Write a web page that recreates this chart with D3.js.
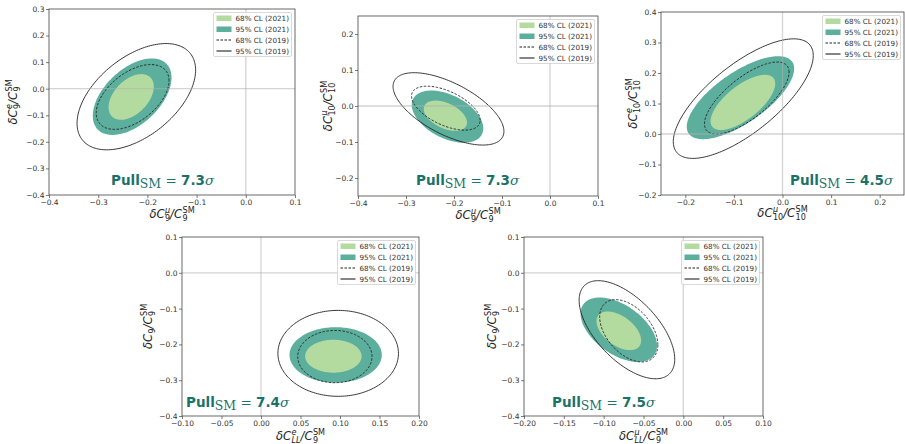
<!DOCTYPE html>
<html>
<head>
<meta charset="utf-8">
<script src="https://cdn.jsdelivr.net/npm/d3@7"></script>
<style>
  body { margin: 0; background: #fff; }
  svg { display: block; font-family: "DejaVu Sans", sans-serif; }
</style>
</head>
<body>
<svg id="fig" width="905" height="444"></svg>
<script>
// axis ranges and ticks, one entry per panel
const xDomains = [[-0.4, 0.1], [-0.4, 0.1], [-0.25, 0.25], [-0.1, 0.2], [-0.2, 0.1]];
const yDomains = [[-0.4, 0.3], [-0.25, 0.25], [-0.2, 0.4], [-0.4, 0.1], [-0.4, 0.1]];
const xTickVals = [
  [-0.4, -0.3, -0.2, -0.1, 0.0, 0.1],
  [-0.4, -0.3, -0.2, -0.1, 0.0, 0.1],
  [-0.2, -0.1, 0.0, 0.1, 0.2],
  [-0.1, -0.05, 0.0, 0.05, 0.1, 0.15, 0.2],
  [-0.2, -0.15, -0.1, -0.05, 0.0, 0.05, 0.1]
];
const yTickVals = [
  [-0.4, -0.3, -0.2, -0.1, 0.0, 0.1, 0.2, 0.3],
  [-0.2, -0.1, 0.0, 0.1, 0.2],
  [-0.2, -0.1, 0.0, 0.1, 0.2, 0.3, 0.4],
  [-0.4, -0.3, -0.2, -0.1, 0.0, 0.1],
  [-0.4, -0.3, -0.2, -0.1, 0.0, 0.1]
];
const xTickDigits = [1, 1, 1, 2, 2];
const pulls = ["7.3", "7.3", "4.5", "7.4", "7.5"];

// contours: [centre x, centre y, half width x, half width y, correlation]
const fill68_2021 = [
  [-0.233, -0.031, 0.046, 0.086, 0.45],
  [-0.218, -0.027, 0.045, 0.042, -0.45],
  [-0.0815, 0.1035, 0.0665, 0.0905, 0.68],
  [0.0916, -0.233, 0.0357, 0.046, 0.0],
  [-0.081, -0.162, 0.028, 0.054, -0.5]
];
const fill95_2021 = [
  [-0.231, -0.030, 0.080, 0.144, 0.5],
  [-0.2135, -0.0295, 0.0745, 0.0725, -0.45],
  [-0.0865, 0.119, 0.1105, 0.136, 0.7],
  [0.0945, -0.2295, 0.0584, 0.0775, 0.0],
  [-0.081, -0.159, 0.048, 0.090, -0.5]
];
const line68_2019 = [
  [-0.230, -0.031, 0.074, 0.122, 0.5],
  [-0.217, -0.006, 0.0715, 0.061, -0.55],
  [-0.0735, 0.118, 0.087, 0.118, 0.72],
  [0.0935, -0.234, 0.047, 0.073, 0.0],
  [-0.0685, -0.162, 0.0365, 0.087, -0.45]
];
const line95_2019 = [
  [-0.2225, -0.03, 0.1205, 0.20, 0.5],
  [-0.2115, -0.008, 0.1155, 0.1005, -0.62],
  [-0.0807, 0.116, 0.144, 0.196, 0.72],
  [0.0977, -0.225, 0.0763, 0.12, 0.0],
  [-0.0708, -0.159, 0.060, 0.137, -0.6]
];

const legendLabels = ["68% CL (2021)", "95% CL (2021)", "68% CL (2019)", "95% CL (2019)"];

// axis labels: [text, superscript, subscript]
const xLabels = [
  [["δC", "μ", "9"], ["/C", "SM", "9"]],
  [["δC", "μ", "9"], ["/C", "SM", "9"]],
  [["δC", "μ", "10"], ["/C", "SM", "10"]],
  [["δC", "e", "LL"], ["/C", "SM", "9"]],
  [["δC", "μ", "LL"], ["/C", "SM", "9"]]
];
const yLabels = [
  [["δC", "e", "9"], ["/C", "SM", "9"]],
  [["δC", "μ", "10"], ["/C", "SM", "10"]],
  [["δC", "e", "10"], ["/C", "SM", "10"]],
  [["δC", "", "9"], ["/C", "SM", "9"]],
  [["δC", "", "9"], ["/C", "SM", "9"]]
];

// layout of the five frames
const boxes = [
  {x0: 49, x1: 295, y0: 9, y1: 195},
  {x0: 358, x1: 598, y0: 16, y1: 196},
  {x0: 661, x1: 904, y0: 12, y1: 195},
  {x0: 182, x1: 419, y0: 237, y1: 416},
  {x0: 524, x1: 763, y0: 237, y1: 416}
];
const yLabelX = [13, 328, 633, 148, 492];
const xLabelY = [218, 219, 217, 440, 440];
const pullPos = [[111, 185], [416, 185], [790, 185], [186, 407], [552, 407]];

const lightGreen = "#b3dba0";
const darkTeal = "#5cae9d";
const pullColor = "#1b7269";

const svg = d3.select("#fig");

function ellipsePoints(c) {
  const [cx, cy, sx, sy, rho] = c;
  const s = Math.sqrt(1 - rho * rho);
  return d3.range(0, 2 * Math.PI, Math.PI / 90).map(t =>
    [cx + sx * Math.cos(t), cy + sy * (rho * Math.cos(t) + s * Math.sin(t))]);
}

function isItalic(s) {
  return s !== "SM" && !/^[0-9]+$/.test(s);
}

// writes δC^a_b/C^c_d as a run of text pieces, returns width
function mathLabel(g, parts, size) {
  let x = 0;
  parts.forEach(p => {
    const main = g.append("text")
      .attr("x", x).attr("y", 0)
      .attr("font-size", size)
      .attr("font-style", "italic")
      .attr("fill", "#222")
      .text(p[0]);
    x += main.node().getComputedTextLength() + 0.5;
    let w = 0;
    if (p[1]) {
      const sup = g.append("text")
        .attr("x", x).attr("y", -size * 0.42)
        .attr("font-size", size * 0.7)
        .attr("font-style", isItalic(p[1]) ? "italic" : "normal")
        .attr("fill", "#222")
        .text(p[1]);
      w = Math.max(w, sup.node().getComputedTextLength());
    }
    if (p[2]) {
      const sub = g.append("text")
        .attr("x", x).attr("y", size * 0.26)
        .attr("font-size", size * 0.7)
        .attr("font-style", isItalic(p[2]) ? "italic" : "normal")
        .attr("fill", "#222")
        .text(p[2]);
      w = Math.max(w, sub.node().getComputedTextLength());
    }
    x += w;
  });
  return x;
}

boxes.forEach((b, i) => {
  const xScale = d3.scaleLinear().domain(xDomains[i]).range([b.x0, b.x1]);
  const yScale = d3.scaleLinear().domain(yDomains[i]).range([b.y1, b.y0]);
  const panel = svg.append("g").attr("class", "panel");

  const clipId = "clip" + i;
  panel.append("clipPath").attr("id", clipId)
    .append("rect")
    .attr("x", b.x0).attr("y", b.y0)
    .attr("width", b.x1 - b.x0).attr("height", b.y1 - b.y0);

  const plot = panel.append("g").attr("clip-path", `url(#${clipId})`);

  const line = d3.line()
    .x(d => xScale(d[0]))
    .y(d => yScale(d[1]))
    .curve(d3.curveLinearClosed);

  plot.append("path").attr("d", line(ellipsePoints(fill95_2021[i])))
    .attr("fill", darkTeal);
  plot.append("path").attr("d", line(ellipsePoints(fill68_2021[i])))
    .attr("fill", lightGreen);
  plot.append("path").attr("d", line(ellipsePoints(line68_2019[i])))
    .attr("fill", "none").attr("stroke", "#222")
    .attr("stroke-width", 0.9).attr("stroke-dasharray", "2.5,1.5");
  plot.append("path").attr("d", line(ellipsePoints(line95_2019[i])))
    .attr("fill", "none").attr("stroke", "#222").attr("stroke-width", 0.9);

  // zero lines, drawn over the contours
  plot.append("line")
    .attr("x1", xScale(0)).attr("x2", xScale(0))
    .attr("y1", b.y0).attr("y2", b.y1)
    .attr("stroke", "#b0b0b0").attr("stroke-opacity", 0.55).attr("stroke-width", 1.3);
  plot.append("line")
    .attr("x1", b.x0).attr("x2", b.x1)
    .attr("y1", yScale(0)).attr("y2", yScale(0))
    .attr("stroke", "#b0b0b0").attr("stroke-opacity", 0.55).attr("stroke-width", 1.3);

  // axes
  const fmtX = v => d3.format(`.${xTickDigits[i]}f`)(v).replace("-", "−");
  const fmtY = v => d3.format(".1f")(v).replace("-", "−");
  const xAxis = panel.append("g")
    .attr("transform", `translate(0,${b.y1})`)
    .call(d3.axisBottom(xScale).tickValues(xTickVals[i]).tickFormat(fmtX).tickSize(3).tickPadding(1.5));
  const yAxis = panel.append("g")
    .attr("transform", `translate(${b.x0},0)`)
    .call(d3.axisLeft(yScale).tickValues(yTickVals[i]).tickFormat(fmtY).tickSize(3).tickPadding(1.5));
  [xAxis, yAxis].forEach(a => {
    a.select(".domain").remove();
    a.selectAll("text").attr("font-size", 7.5).attr("fill", "#333")
      .attr("font-family", "DejaVu Sans, sans-serif");
    a.selectAll("line").attr("stroke", "#444").attr("stroke-width", 0.7);
  });

  panel.append("rect")
    .attr("x", b.x0).attr("y", b.y0)
    .attr("width", b.x1 - b.x0).attr("height", b.y1 - b.y0)
    .attr("fill", "none").attr("stroke", "#444").attr("stroke-width", 0.8);

  // legend
  const lw = 78, lh = 44;
  const legend = panel.append("g")
    .attr("transform", `translate(${b.x1 - 3.5 - lw},${b.y0 + 3.5})`);
  legend.append("rect")
    .attr("width", lw).attr("height", lh).attr("rx", 1.5)
    .attr("fill", "rgba(255,255,255,0.85)")
    .attr("stroke", "#cfcfcf").attr("stroke-width", 0.8);
  legendLabels.forEach((lab, k) => {
    const yy = 5.5 + k * 11;
    if (k < 2) {
      legend.append("rect")
        .attr("x", 3).attr("y", yy - 2.5).attr("width", 15).attr("height", 5.5)
        .attr("fill", k === 0 ? lightGreen : darkTeal);
    } else {
      legend.append("line")
        .attr("x1", 3).attr("x2", 18).attr("y1", yy).attr("y2", yy)
        .attr("stroke", "#222").attr("stroke-width", 1.1)
        .attr("stroke-dasharray", k === 2 ? "2.5,1.5" : null);
    }
    legend.append("text")
      .attr("x", 22).attr("y", yy + 2.5)
      .attr("font-size", 7.2).attr("fill", "#333")
      .text(lab);
  });

  // Pull_SM text
  const pull = panel.append("text")
    .attr("x", pullPos[i][0]).attr("y", pullPos[i][1])
    .attr("fill", pullColor).attr("font-size", 13.5);
  pull.append("tspan").attr("font-weight", "bold").text("Pull");
  pull.append("tspan").attr("font-family", "DejaVu Serif, serif")
    .attr("font-size", 12.5).attr("dy", 3).text("SM");
  pull.append("tspan").attr("font-family", "DejaVu Serif, serif")
    .attr("dy", -3).text(" = ");
  pull.append("tspan").attr("font-weight", "bold").text(pulls[i]);
  pull.append("tspan").attr("font-family", "DejaVu Serif, serif")
    .attr("font-style", "italic").text("σ");

  // axis labels
  const size = 11.5;
  const xl = panel.append("g");
  const wx = mathLabel(xl, xLabels[i], size);
  xl.attr("transform", `translate(${(b.x0 + b.x1) / 2 - wx / 2},${xLabelY[i]})`);

  const yOuter = panel.append("g")
    .attr("transform", `translate(${yLabelX[i]},${(b.y0 + b.y1) / 2}) rotate(-90)`);
  const yl = yOuter.append("g");
  const wy = mathLabel(yl, yLabels[i], size);
  yl.attr("transform", `translate(${-wy / 2},${size * 0.35})`);
});
</script>
</body>
</html>
